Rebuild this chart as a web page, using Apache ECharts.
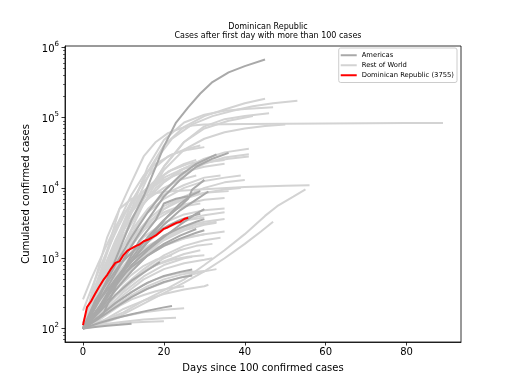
<!DOCTYPE html>
<html><head><meta charset="utf-8">
<script src="https://cdn.jsdelivr.net/npm/echarts@6/dist/echarts.min.js"></script>
<style>html,body{margin:0;padding:0;background:#fff}#c{width:512px;height:384px}</style>
</head><body><div id="c"></div>
<script>
const xTicks = [0, 20, 40, 60, 80];
const yTicks = [100, 1000, 10000, 100000, 1000000];
const yMinorTicks = [70, 80, 90, 200, 300, 400, 500, 600, 700, 800, 900,
  2000, 3000, 4000, 5000, 6000, 7000, 8000, 9000,
  20000, 30000, 40000, 50000, 60000, 70000, 80000, 90000,
  200000, 300000, 400000, 500000, 600000, 700000, 800000, 900000];
const legendNames = ['Americas', 'Rest of World', 'Dominican Republic (3755)'];

const dominicanRepublic = [112, 202, 245, 312, 392, 488, 581, 719, 859, 901, 1109, 1284, 1380, 1488,
  1578, 1745, 1828, 1956, 2111, 2349, 2620, 2759, 2967, 3167, 3286, 3614, 3755];

const americas = [
  [[0,100],[3,200],[6,500],[9,1300],[12,3500],[15,7600],[18,20000],[20,39000],[23,85000],[26,140000],[29,220000],[32,320000],[36,440000],[40,540000],[45,671000]],
  [[0,100],[4,250],[8,600],[12,1500],[16,3500],[20,7500],[24,13000],[28,20000],[32,26000],[36,31500]],
  [[0,100],[4,300],[8,800],[12,2000],[16,4500],[20,9000],[24,15000],[28,22000],[33,30000]],
  [[0,100],[4,200],[8,500],[12,1000],[16,2000],[20,3500],[24,5500],[26,7000],[27,9500],[28,10500],[30,13000]],
  [[0,100],[4,200],[8,450],[12,900],[16,1700],[20,3000],[24,4800],[28,6800],[31,8900]],
  [[0,100],[5,160],[10,700],[14,1800],[18,3500],[20,6000],[23,7000],[26,7600]],
  [[0,100],[4,180],[8,350],[12,650],[16,1100],[20,1600],[24,2100],[28,2600]],
  [[0,100],[4,200],[8,400],[12,800],[16,1300],[20,2000],[24,3000],[28,4300],[30,5000]],
  [[0,100],[4,150],[8,230],[12,330],[16,450],[20,560],[24,640],[27,690]],
  [[0,100],[4,140],[8,200],[12,280],[16,370],[20,460],[24,530],[27,570]],
  [[0,100],[4,170],[8,300],[12,480],[16,680],[19,880]],
  [[0,100],[4,120],[8,140],[12,160],[16,180],[20,200],[22,210]],
  [[0,100],[3,105],[6,110],[9,113],[12,117]],
  [[0,100],[3,250],[6,450],[9,800],[12,1200],[15,1700],[18,2300],[21,2900],[24,3500],[27,4000],[29,4300]],
  [[0,100],[4,200],[8,450],[12,750],[16,1100],[20,1500],[24,1900],[28,2300],[30,2500]],
  [[0,100],[4,250],[8,500],[12,900],[16,1400],[20,2100],[24,2700],[28,3300],[30,3600]],
  [[0,100],[3,150],[6,280],[9,550],[12,900],[15,1500],[18,2500],[21,4000],[24,6000],[27,8000],[29,9000]]
];

const restOfWorld = [
  [[0,100],[4,400],[8,1700],[12,6000],[16,17000],[20,40000],[25,74000],[30,105000],[35,130000],[40,160000],[45,185000]],
  [[0,100],[5,500],[10,2500],[14,8000],[18,25000],[22,50000],[27,80000],[32,105000],[37,125000],[42,145000],[47,160000],[53,173000]],
  [[0,100],[4,300],[8,1200],[12,5000],[16,20000],[20,48000],[25,85000],[30,110000],[35,125000],[40,132000],[47,140000]],
  [[0,100],[6,600],[10,2000],[15,7000],[20,20000],[25,45000],[30,75000],[35,95000],[40,105000],[46,115000]],
  [[0,100],[3,300],[6,1300],[9,5000],[12,12000],[15,28000],[18,45000],[21,60000],[24,70000],[27,77000],[30,80000],[40,81000],[50,82000],[60,82500],[70,83000],[80,83500],[89,84000]],
  [[0,100],[5,350],[10,1500],[15,6000],[20,18000],[25,35000],[30,50000],[35,62000],[40,70000],[45,76000],[50,80000]],
  [[0,100],[5,400],[10,2000],[15,7000],[20,20000],[25,45000],[30,70000],[36,90000],[42,105000]],
  [[0,100],[5,500],[10,2000],[15,6000],[20,12000],[25,19000],[30,26000],[35,32000],[41,36000]],
  [[0,100],[5,300],[10,1200],[15,4000],[20,9000],[25,16000],[30,22000],[35,27000],[41,30000]],
  [[0,100],[6,700],[12,3500],[18,10000],[24,18000],[30,23000],[36,26000],[41,28000]],
  [[0,100],[4,350],[8,1500],[12,4500],[16,9000],[20,14000],[25,19000],[30,23000],[35,25000]],
  [[0,100],[5,400],[10,1500],[15,4000],[20,7000],[25,10000],[30,12500],[35,14000],[39,15000]],
  [[0,100],[3,500],[6,2000],[9,5000],[12,7000],[16,8000],[20,8800],[30,9600],[40,10300],[50,10700],[56,10900]],
  [[0,100],[5,130],[10,170],[15,250],[20,350],[25,500],[30,800],[35,1300],[40,2200],[45,4000],[48,5500],[52,7500],[55,9500]],
  [[0,100],[10,160],[20,320],[25,450],[30,650],[35,1000],[40,1600],[44,2400],[47,3300]],
  [[0,100],[5,450],[10,1500],[15,3000],[20,4500],[25,5800],[30,6800],[35,7200]],
  [[0,100],[5,300],[10,900],[15,2000],[20,3200],[25,4200],[30,4800],[35,5100]],
  [[0,100],[5,250],[10,600],[15,1200],[20,2000],[25,2800],[30,3300],[35,3600]],
  [[0,100],[5,200],[10,500],[15,1000],[20,1500],[25,1900],[30,2200],[35,2400]],
  [[0,100],[5,180],[10,400],[15,700],[20,1100],[25,1500],[30,1800],[34,1950]],
  [[0,100],[5,160],[10,300],[15,500],[20,700],[25,850],[30,950],[32,1000]],
  [[0,100],[5,150],[10,250],[15,350],[20,450],[25,550],[30,650],[33,700]],
  [[0,100],[5,130],[10,190],[15,250],[20,310],[25,360],[30,400],[31,420]],
  [[0,100],[5,120],[10,150],[15,170],[20,185],[25,195]],
  [[0,100],[5,115],[10,125],[15,135],[20,140],[23,142]],
  [[0,100],[4,110],[8,118],[12,122],[16,125],[20,127]],
  [[0,100],[3,400],[6,1200],[9,3500],[12,8000],[15,15000],[18,22000],[22,30000],[26,35000],[30,38000]],
  [[0,100],[3,250],[6,800],[9,2200],[12,5000],[15,9000],[18,13000],[22,18000],[26,22000],[31,25000]],
  [[0,120],[2,250],[5,700],[8,1800],[11,4000],[14,7000],[17,10000],[20,13000],[25,17000],[30,20000],[35,22000]],
  [[0,100],[4,300],[8,900],[12,2500],[16,5000],[20,8000],[25,11000],[30,14000],[34,15000]],
  [[0,100],[4,200],[8,600],[12,1500],[16,3000],[20,5000],[25,7500],[30,10000],[35,12000],[40,13000]],
  [[0,100],[4,250],[8,700],[12,1800],[16,3500],[20,5500],[25,7500],[30,8500],[36,9000]],
  [[0,100],[3,200],[6,450],[9,900],[12,1600],[15,2500],[18,3500],[21,4500],[25,5500],[29,6000]],
  [[0,100],[3,180],[6,350],[9,650],[12,1100],[15,1700],[18,2300],[22,3000],[26,3500],[30,3800]],
  [[0,100],[3,150],[6,280],[9,480],[12,750],[15,1100],[18,1400],[22,1700],[26,2000],[30,2200]],
  [[0,100],[3,140],[6,220],[9,330],[12,480],[15,650],[18,800],[22,950],[26,1050],[30,1100]],
  [[0,100],[3,130],[6,180],[9,250],[12,330],[15,420],[18,500],[21,570],[24,620],[28,650]],
  [[0,100],[3,120],[6,160],[9,210],[12,260],[15,300],[18,340],[21,370],[25,400]],
  [[0,260],[2,500],[4,900],[6,1600],[8,2800],[10,4200],[12,6000],[14,8000],[17,11000],[20,14000]],
  [[0,180],[3,500],[6,1300],[9,3000],[12,6500],[15,12000],[18,20000],[21,28000],[25,35000],[29,40000]],
  [[0,100],[2,200],[4,400],[6,800],[8,1500],[10,2500],[13,4500],[16,7000],[20,10000],[24,13000],[28,15000]],
  [[0,100],[4,180],[8,350],[12,700],[16,1200],[20,1900],[24,2500],[28,3000],[33,3300]],
  [[0,100],[4,160],[8,280],[12,450],[16,700],[20,1000],[24,1300],[28,1500],[32,1600]],
  [[0,100],[4,140],[8,210],[12,300],[16,400],[20,500],[24,580],[28,640],[30,660]],
  [[0,100],[5,200],[10,380],[15,650],[20,900],[25,1150],[29,1300]],
  [[0,100],[5,250],[10,700],[15,1500],[20,2600],[25,3500],[30,4100],[35,4500]],
  [[0,100],[5,220],[10,550],[15,1100],[20,1800],[25,2500],[30,3000],[33,3200]],
  [[0,100],[5,350],[10,1100],[15,2800],[20,5000],[25,7000],[30,8500],[35,9500],[39,10000]],
  [[0,100],[5,170],[10,330],[15,550],[20,800],[25,1000],[27,1050]],
  [[0,100],[3,160],[6,260],[9,400],[12,580],[15,780],[18,950],[22,1100]],
  [[0,100],[2,150],[4,230],[6,350],[8,520],[10,750],[13,1100],[16,1500],[20,2000],[24,2400]],
  [[0,100],[3,300],[6,900],[9,2200],[12,4500],[15,8000],[18,12000],[21,17000],[25,22000],[28,25000]]
];

const LIGHT = '#d3d3d3', DARK = '#a9a9a9', RED = '#ff0000';
const FONT = 'DejaVu Sans';
const series = [];
restOfWorld.forEach(d => series.push({type:'line', name:legendNames[1], data:d, symbol:'none', silent:true,
  lineStyle:{color:LIGHT, width:2}, itemStyle:{color:LIGHT}, z:2}));
americas.forEach(d => series.push({type:'line', name:legendNames[0], data:d, symbol:'none', silent:true,
  lineStyle:{color:DARK, width:2}, itemStyle:{color:DARK}, z:3}));
series.push({type:'line', name:legendNames[2], data:dominicanRepublic.map((v,i)=>[i,v]), symbol:'none', silent:true,
  lineStyle:{color:RED, width:2}, itemStyle:{color:RED}, z:4});

const chart = echarts.init(document.getElementById('c'), null, {renderer:'canvas'});
const yBase = {type:'log', min:64.4, max:1042000, gridIndex:0, position:'left'};
chart.setOption({
  animation:false,
  backgroundColor:'#fff',
  title:{text:'Dominican Republic\nCases after first day with more than 100 cases', left:263, top:17, textAlign:'center',
    textStyle:{fontSize:8, lineHeight:9.5, fontWeight:'normal', color:'#000', fontFamily:FONT}},
  legend:{data:legendNames, orient:'vertical', right:55, top:48, icon:'rect', itemWidth:16, itemHeight:2, itemGap:2.5,
    padding:[3.5,3,3.5,2], borderColor:'#cccccc', borderWidth:1, borderRadius:2, backgroundColor:'rgba(255,255,255,0.8)',
    selectedMode:false, textStyle:{fontSize:6.8, lineHeight:7.5, color:'#000', fontFamily:FONT}},
  grid:{left:65, right:51, top:46, bottom:42, show:true, borderColor:'#000', borderWidth:0.8, containLabel:false},
  xAxis:{type:'value', min:-4.45, max:93.45,
    name:'Days since 100 confirmed cases', nameLocation:'middle', nameGap:21,
    nameTextStyle:{fontSize:10, color:'#000', fontFamily:FONT},
    axisLine:{show:true, onZero:false, lineStyle:{color:'#000', width:0.8}},
    axisTick:{show:true, length:3.5, lineStyle:{color:'#000', width:0.8}, customValues:xTicks},
    axisLabel:{color:'#000', fontSize:10, fontFamily:FONT, margin:5, customValues:xTicks},
    splitLine:{show:false}},
  yAxis:[
    Object.assign({}, yBase, {
      name:'Cumulated confirmed cases', nameLocation:'middle', nameGap:34,
      nameTextStyle:{fontSize:10, color:'#000', fontFamily:FONT},
      axisLine:{show:true, onZero:false, lineStyle:{color:'#000', width:0.8}},
      axisTick:{show:true, length:3.5, lineStyle:{color:'#000', width:0.8}, customValues:yTicks},
      axisLabel:{customValues:yTicks, margin:6, color:'#000', fontFamily:FONT,
        formatter:v => '{b|10}{s|' + Math.round(Math.log10(v)) + '}',
        rich:{b:{fontSize:10, fontFamily:FONT, color:'#000', lineHeight:14, verticalAlign:'bottom'},
              s:{fontSize:7, fontFamily:FONT, color:'#000', lineHeight:9, verticalAlign:'top'}}},
      splitLine:{show:false}}),
    Object.assign({}, yBase, {
      axisLine:{show:false, onZero:false},
      axisTick:{show:true, length:2, lineStyle:{color:'#000', width:0.6}, customValues:yMinorTicks},
      axisLabel:{show:false},
      splitLine:{show:false}})
  ],
  series:series
});
</script></body></html>
